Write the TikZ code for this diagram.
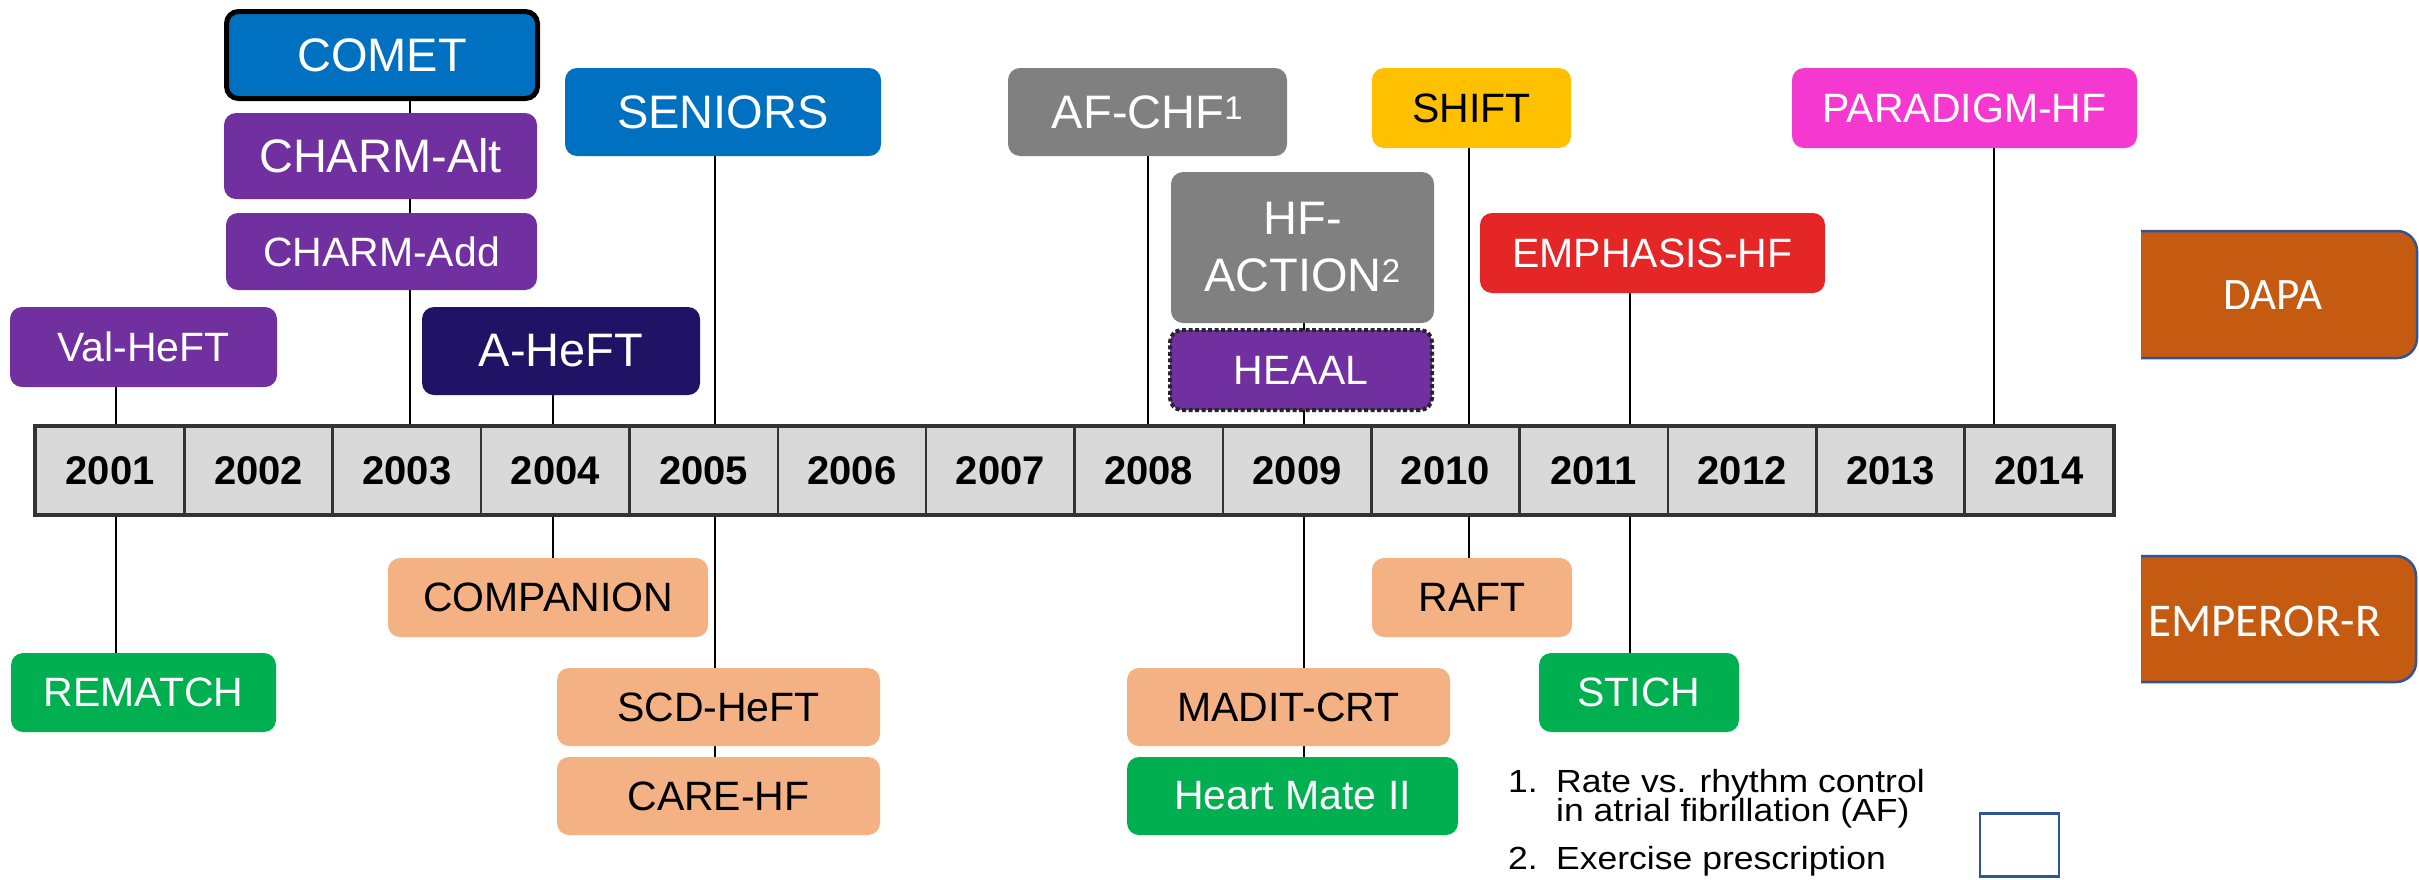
\documentclass[tikz,border=0pt]{standalone}
\usepackage{fontspec}
\setmainfont{Liberation Sans}
\newfontfamily\carlito{Carlito}
\newfontfamily\notefont[FakeStretch=1.11]{Liberation Sans}
\usetikzlibrary{backgrounds}
\lineskiplimit=-30pt
\definecolor{cblue}{RGB}{0,112,192}
\definecolor{cpurple}{RGB}{112,48,160}
\definecolor{cnavy}{RGB}{32,18,100}
\definecolor{cgray}{RGB}{128,128,128}
\definecolor{cyellow}{RGB}{255,192,0}
\definecolor{cred}{RGB}{228,38,38}
\definecolor{cmagenta}{RGB}{244,56,208}
\definecolor{cpeach}{RGB}{244,177,131}
\definecolor{cgreen}{RGB}{0,176,80}
\definecolor{cbar}{RGB}{217,217,217}
\definecolor{cdapa}{RGB}{197,90,17}
\definecolor{cdapaline}{RGB}{47,85,151}
\tikzset{
  trial/.style={rounded corners=12pt, inner sep=0pt, align=center, text=white},
  bigtxt/.style={font=\fontsize{47}{57}\selectfont},
  smalltxt/.style={font=\fontsize{41}{49}\selectfont},
  yearcell/.style={draw=black!80, line width=2.5pt, fill=cbar, minimum width=148.36pt,
    minimum height=87pt, inner sep=0pt, font=\bfseries\fontsize{40}{46}\selectfont},
  link/.style={line width=2.5pt, black},
  sidebox/.style={fill=cdapa, draw=cdapaline, line width=2.5pt, rounded corners=20pt},
  sidetxt/.style={text=white},
}
\begin{document}
\begin{tikzpicture}[x=1pt, y=-1pt]
\useasboundingbox (0,0) rectangle (2419,879);

% timeline bar
\foreach \i [count=\k from 0] in {2001,...,2014}
  \node[yearcell] (y\i) at ({36+148.36*(\k+0.5)},470.5) {\i};
\draw[line width=4pt, black!80] (y2001.north west) rectangle (y2014.south east);

% upper trials
\node[trial, bigtxt, fill=cblue, draw=black, line width=5pt, minimum width=311pt, minimum height=87pt] (comet) at (382,55) {COMET};
\node[trial, bigtxt, fill=cpurple, minimum width=313pt, minimum height=86pt] (charmalt) at (380.5,156) {CHARM-Alt};
\node[trial, smalltxt, fill=cpurple, minimum width=311pt, minimum height=77pt] (charmadd) at (381.5,251.5) {CHARM-Add};
\node[trial, smalltxt, fill=cpurple, minimum width=267pt, minimum height=80pt] (valheft) at (143.5,347) {Val-HeFT};
\node[trial, bigtxt, fill=cnavy, minimum width=278pt, minimum height=88pt] (aheft) at (561,351) {A-HeFT};
\node[trial, bigtxt, fill=cblue, minimum width=316pt, minimum height=88pt] (seniors) at (723,112) {SENIORS};
\node[trial, bigtxt, fill=cgray, minimum width=279pt, minimum height=88pt] (afchf) at (1147.5,112) {AF-CHF\textsuperscript{1}};
\node[trial, bigtxt, fill=cgray, minimum width=263pt, minimum height=151pt] (hfaction) at (1302.5,247.5) {HF-\\ACTION\textsuperscript{2}};
\node[trial, smalltxt, fill=cpurple, draw=black!85, line width=4pt, dash pattern=on 4pt off 2.5pt, minimum width=262pt, minimum height=80pt] (heaal) at (1301,370) {HEAAL};
\node[trial, smalltxt, fill=cyellow, text=black, minimum width=199pt, minimum height=80pt] (shift) at (1471.5,108) {SHIFT};
\node[trial, smalltxt, fill=cred, minimum width=345pt, minimum height=80pt] (emphasis) at (1652.5,253) {EMPHASIS-HF};
\node[trial, smalltxt, fill=cmagenta, minimum width=345pt, minimum height=80pt] (paradigm) at (1964.5,108) {PARADIGM-HF};

% lower trials
\node[trial, smalltxt, fill=cgreen, minimum width=265pt, minimum height=79pt] (rematch) at (143.5,692.5) {REMATCH};
\node[trial, smalltxt, fill=cpeach, text=black, minimum width=320pt, minimum height=79pt] (companion) at (548,597.5) {COMPANION};
\node[trial, smalltxt, fill=cpeach, text=black, minimum width=323pt, minimum height=78pt] (scdheft) at (718.5,707) {SCD-HeFT};
\node[trial, smalltxt, fill=cpeach, text=black, minimum width=323pt, minimum height=78pt] (carehf) at (718.5,796) {CARE-HF};
\node[trial, smalltxt, fill=cpeach, text=black, minimum width=200pt, minimum height=79pt] (raft) at (1472,597.5) {RAFT};
\node[trial, smalltxt, fill=cpeach, text=black, minimum width=323pt, minimum height=78pt] (madit) at (1288.5,707) {MADIT-CRT};
\node[trial, smalltxt, fill=cgreen, minimum width=331pt, minimum height=78pt] (heartmate) at (1292.5,796) {Heart Mate II};
\node[trial, smalltxt, fill=cgreen, minimum width=200pt, minimum height=79pt] (stich) at (1639,692.5) {STICH};

% footnotes
\node[anchor=north west, align=left, inner sep=0pt, font=\notefont\fontsize{32}{29.5}\selectfont] (notes) at (1508,769)
  {\makebox[48pt][l]{1.}Rate vs. rhythm control\\
   \makebox[48pt][l]{}in atrial fibrillation (AF)\\[18pt]
   \makebox[48pt][l]{2.}Exercise prescription};
\node[draw=cdapaline, line width=2.5pt, minimum width=79pt, minimum height=63pt, inner sep=0pt] (blank) at (2019.5,845) {};

% side boxes
\draw[sidebox] (2141,231) -- (2417,231) -- (2417,358) -- (2141,358);
\node[sidetxt, font=\carlito\fontsize{45}{54}\selectfont] (dapa) at (2273,295) {DAPA};
\draw[sidebox] (2141,556) -- (2416,556) -- (2416,682) -- (2141,682);
\node[sidetxt, font=\carlito\fontsize{47}{56}\selectfont] (emperor) at (2264.5,621) {EMPEROR-R};

% connector x positions
\coordinate (l2001) at (116,0);
\coordinate (l2003) at (410,0);
\coordinate (l2004) at (553,0);
\coordinate (l2005) at (715,0);
\coordinate (l2008) at (1148,0);
\coordinate (l2009) at (1304,0);
\coordinate (l2010) at (1469,0);
\coordinate (l2011) at (1630,0);
\coordinate (l2014) at (1994,0);

\begin{pgfonlayer}{background}
\draw[link] (l2001 |- valheft.south) -- (l2001 |- y2001.north);
\draw[link] (l2001 |- y2001.south) -- (l2001 |- rematch.north);
\draw[link] (l2003 |- comet.south) -- (l2003 |- y2003.north);
\draw[link] (l2004 |- aheft.south) -- (l2004 |- y2004.north);
\draw[link] (l2004 |- y2004.south) -- (l2004 |- companion.north);
\draw[link] (l2005 |- seniors.south) -- (l2005 |- y2005.north);
\draw[link] (l2005 |- y2005.south) -- (l2005 |- carehf.north);
\draw[link] (l2008 |- afchf.south) -- (l2008 |- y2008.north);
\draw[link] (l2009 |- hfaction.south) -- (l2009 |- y2009.north);
\draw[link] (l2009 |- y2009.south) -- (l2009 |- heartmate.north);
\draw[link] (l2010 |- shift.south) -- (l2010 |- y2010.north);
\draw[link] (l2010 |- y2010.south) -- (l2010 |- raft.north);
\draw[link] (l2011 |- emphasis.south) -- (l2011 |- y2011.north);
\draw[link] (l2011 |- y2011.south) -- (l2011 |- stich.north);
\draw[link] (l2014 |- paradigm.south) -- (l2014 |- y2014.north);
\end{pgfonlayer}
\end{tikzpicture}
\end{document}
